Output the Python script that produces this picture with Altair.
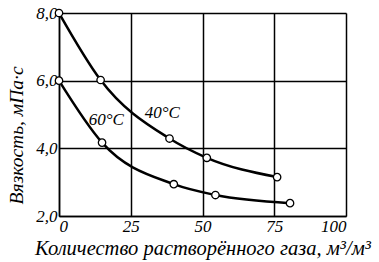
import altair as alt
import pandas as pd

# 40°C series
x40 = [0, 14.5, 38.5, 51.5, 76]
y40 = [8.0, 6.02, 4.29, 3.72, 3.15]
# 60°C series
x60 = [0, 15, 40, 54.5, 80.5]
y60 = [6.0, 4.17, 2.94, 2.62, 2.38]

labels = ["60°C", "40°C"]
label_x = [16.5, 36.0]
label_y = [4.85, 5.03]

df = pd.DataFrame({
    "x": x40 + x60,
    "y": y40 + y60,
    "s": ["40"] * len(x40) + ["60"] * len(x60),
})
lab = pd.DataFrame({"x": label_x, "y": label_y, "t": labels})

FONT = "Liberation Serif"

xs = alt.Scale(domain=[0, 100], nice=False, zero=False)
ys = alt.Scale(domain=[2, 8], nice=False, zero=False)

xaxis = alt.Axis(values=[0, 25, 50, 75, 100], grid=True, gridColor="black", gridWidth=1.5,
                 gridOpacity=1, ticks=False, domainColor="black", domainWidth=1.5,
                 labelFont=FONT, labelFontStyle="italic", labelFontSize=17, labelColor="black",
                 labelPadding=2, title="Количество растворённого газа, м³/м³",
                 titleFont=FONT, titleFontStyle="italic", titleFontWeight="normal",
                 titleFontSize=20.5, titleColor="black", titlePadding=4)
yaxis = alt.Axis(values=[2, 4, 6, 8], grid=True, gridColor="black", gridWidth=1.5,
                 gridOpacity=1, ticks=False, domainColor="black", domainWidth=1.5,
                 labelFont=FONT, labelFontStyle="italic", labelFontSize=17, labelColor="black",
                 labelPadding=2,
                 labelExpr="replace(format(datum.value, '.1f'), '.', ',')",
                 title="Вязкость, мПа·с",
                 titleFont=FONT, titleFontStyle="italic", titleFontWeight="normal",
                 titleFontSize=19.5, titleColor="black", titlePadding=9, titleY=122)

base = alt.Chart(df)
lines = base.mark_line(color="black", strokeWidth=2.5, interpolate="monotone").encode(
    x=alt.X("x:Q", scale=xs, axis=xaxis),
    y=alt.Y("y:Q", scale=ys, axis=yaxis),
    detail="s:N",
)
pts = base.mark_point(shape="circle", filled=True, fill="white", stroke="black",
                      strokeWidth=1.3, size=55, opacity=1).encode(
    x=alt.X("x:Q", scale=xs),
    y=alt.Y("y:Q", scale=ys),
)
texts = alt.Chart(lab).mark_text(font=FONT, fontStyle="italic", fontSize=17, color="black").encode(
    x=alt.X("x:Q", scale=xs),
    y=alt.Y("y:Q", scale=ys),
    text="t:N",
)

chart = alt.layer(lines, pts, texts).properties(
    width=287, height=203,
    autosize=alt.AutoSizeParams(type="none"),
    padding={"left": 59, "top": 13, "right": 33, "bottom": 46},
).configure_view(stroke="black", strokeWidth=1.5).configure(background="white")

chart.save("out.html", embed_options={"renderer": "svg", "actions": False})
